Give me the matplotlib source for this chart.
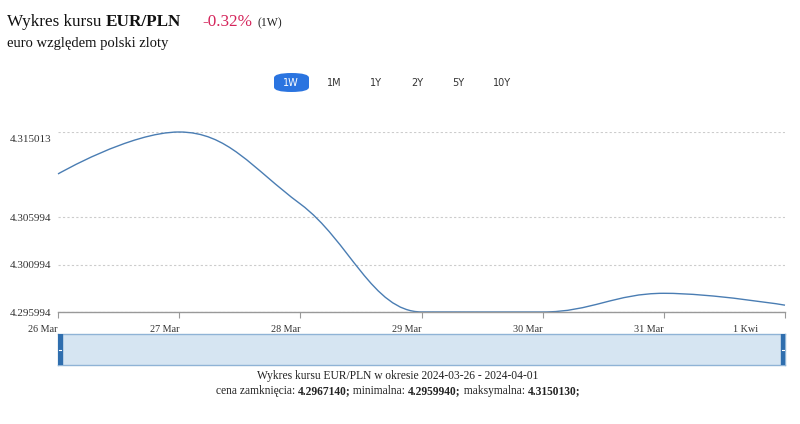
import numpy as np
import matplotlib
matplotlib.use("Agg")
import matplotlib.pyplot as plt
import matplotlib.dates as mdates
from matplotlib.path import Path
from matplotlib.patches import PathPatch, Rectangle, FancyBboxPatch
from matplotlib.transforms import ScaledTranslation
import datetime as dt

plt.rcParams['font.family'] = ['Liberation Serif', 'DejaVu Serif']

dates = [dt.date(2024, 3, 26) + dt.timedelta(days=i) for i in range(7)]
rates = [4.31058, 4.315013, 4.30741, 4.29600, 4.295994, 4.29797, 4.296714]
date_labels = ["26 Mar", "27 Mar", "28 Mar", "29 Mar", "30 Mar", "31 Mar", "1 Kwi"]
y_ticks = [4.295994, 4.300994, 4.305994, 4.315013]
buttons = ["1W", "1M", "1Y", "2Y", "5Y", "10Y"]

W, H = 800, 424
fig = plt.figure(figsize=(W / 100, H / 100), dpi=100)


def box(x0, y0, x1, y1):
    return [x0 / W, 1 - y1 / H, (x1 - x0) / W, (y1 - y0) / H]


# spline like the web chart: bezier control points with smoothing 1.5
def spline_path(xs, ys, smoothing=1.5):
    n = len(xs)
    left = [None] * n
    right = [None] * n
    for i in range(n):
        x, y = xs[i], ys[i]
        if i == 0 or i == n - 1:
            left[i] = (x, y)
            right[i] = (x, y)
            continue
        lx, ly = xs[i - 1], ys[i - 1]
        nx, ny = xs[i + 1], ys[i + 1]
        d = smoothing + 1
        lcx = (smoothing * x + lx) / d
        lcy = (smoothing * y + ly) / d
        rcx = (smoothing * x + nx) / d
        rcy = (smoothing * y + ny) / d
        if rcx != lcx:
            corr = ((rcy - lcy) * (rcx - x)) / (rcx - lcx) + y - rcy
            lcy += corr
            rcy += corr
        if lcy > ly and lcy > y:
            lcy = max(ly, y)
            rcy = 2 * y - lcy
        elif lcy < ly and lcy < y:
            lcy = min(ly, y)
            rcy = 2 * y - lcy
        if rcy > ny and rcy > y:
            rcy = max(ny, y)
            lcy = 2 * y - rcy
        elif rcy < ny and rcy < y:
            rcy = min(ny, y)
            lcy = 2 * y - rcy
        left[i] = (lcx, lcy)
        right[i] = (rcx, rcy)
    verts = [(xs[0], ys[0])]
    codes = [Path.MOVETO]
    for i in range(1, n):
        verts += [right[i - 1], left[i], (xs[i], ys[i])]
        codes += [Path.CURVE4] * 3
    return Path(verts, codes)


ax = fig.add_axes(box(58, 132, 785, 312))
xnum = mdates.date2num(dates)
ax.add_patch(PathPatch(spline_path(list(xnum), rates), fill=False,
                       edgecolor="#4a7db3", lw=1.0, clip_on=False))
ax.set_xlim(xnum[0], xnum[-1])
ax.set_ylim(y_ticks[0], y_ticks[-1])

ax.set_yticks(y_ticks)
ax.set_yticklabels(["%.6f" % v for v in y_ticks])
ax.grid(axis="y", color="#cccccc", linestyle=(0, (2, 2)), lw=0.8)
ax.set_axisbelow(True)
for s in ["top", "right", "left"]:
    ax.spines[s].set_visible(False)
ax.spines["bottom"].set_color("#999999")
ax.spines["bottom"].set_linewidth(1.0)
ax.tick_params(axis="y", length=0, pad=5, labelsize=8, labelcolor="#333333")
ax.tick_params(axis="x", length=4, color="#999999", labelsize=7.3,
               labelcolor="#333333", pad=5)
ax.set_xticks(xnum)
ax.set_xticklabels(date_labels, ha="right")
last = ax.get_xticklabels()[-1]
last.set_transform(last.get_transform() + ScaledTranslation(-27 / 100, 0, fig.dpi_scale_trans))
top = ax.get_yticklabels()[-1]
top.set_transform(top.get_transform() + ScaledTranslation(0, -6 / 100, fig.dpi_scale_trans))

# navigator
nav = fig.add_axes(box(58, 334, 785, 365))
nav.set_facecolor("#d6e5f2")
nav.set_xticks([])
nav.set_yticks([])
for s in nav.spines.values():
    s.set_color("#8fb3d6")
    s.set_linewidth(1)
nav.set_xlim(0, 1)
nav.set_ylim(0, 1)
hw = 4 / 727
nav.add_patch(Rectangle((0, 0), hw, 1, color="#2f6eae", transform=nav.transAxes, zorder=3))
nav.add_patch(Rectangle((1 - hw, 0), hw, 1, color="#2f6eae", transform=nav.transAxes, zorder=3))
nav.plot([hw * 0.2, hw * 0.8], [0.5, 0.5], color="white", lw=0.8, zorder=4)
nav.plot([1 - hw * 0.8, 1 - hw * 0.2], [0.5, 0.5], color="white", lw=0.8, zorder=4)

fig.canvas.draw()
r = fig.canvas.get_renderer()


def text_run(x, y, parts, size, center=False):
    objs = []
    for s, w, c in parts:
        objs.append(fig.text(0, 1 - y / H, s, fontsize=size, fontweight=w, color=c))
    widths = [o.get_window_extent(renderer=r).width for o in objs]
    x0 = x - sum(widths) / 2 if center else x
    for o, wd in zip(objs, widths):
        o.set_x(x0 / W)
        x0 += wd


# header
text_run(7, 26, [("Wykres kursu ", "normal", "#111111"), ("EUR/PLN", "bold", "#111111")], 12.3)
fig.text(202 / W, 1 - 26 / H, "-0.32%", fontsize=12.3, color="#d4245a")
fig.text(258 / W, 1 - 26 / H, "(1W)", fontsize=8.5, color="#222222")
fig.text(7 / W, 1 - 47 / H, "euro względem polski zloty", fontsize=10.5, color="#111111")

# range buttons
bx = [291, 334, 376, 417, 458, 502]
pill = FancyBboxPatch(((274) / W, 1 - 92 / H), 35 / W, 19 / H,
                      boxstyle="round,pad=0,rounding_size=0.022",
                      transform=fig.transFigure, facecolor="#2a74e0",
                      edgecolor="none", mutation_aspect=H / W)
fig.patches.append(pill)
for i, (b, x) in enumerate(zip(buttons, bx)):
    fig.text(x / W, 1 - 82.5 / H, b, ha="center", va="center", fontsize=7,
             family="DejaVu Sans", color="white" if i == 0 else "#333333")

# footer
fig.text(398 / W, 1 - 379 / H, "Wykres kursu EUR/PLN w okresie 2024-03-26 - 2024-04-01",
         ha="center", fontsize=8.3, color="#222222")
k = "#222222"
text_run(398, 394, [("cena zamknięcia: ", "normal", k), ("4.2967140;", "bold", k),
                    (" minimalna: ", "normal", k), ("4.2959940;", "bold", k),
                    (" maksymalna: ", "normal", k), ("4.3150130;", "bold", k)],
         8.3, center=True)

fig.savefig("out.png", dpi=100)
